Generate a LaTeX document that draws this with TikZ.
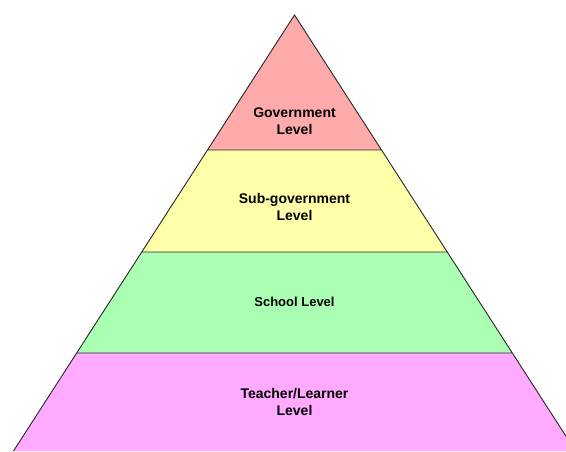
\documentclass[tikz,border=0pt]{standalone}
\usepackage{fontspec}
\setmainfont{Liberation Sans}
\usetikzlibrary{positioning}
\definecolor{govpink}{RGB}{255,170,170}
\definecolor{subyellow}{RGB}{255,255,170}
\definecolor{schoolgreen}{RGB}{170,255,178}
\definecolor{teachermagenta}{RGB}{255,170,255}
\tikzset{edge/.style={draw=black!85, line width=0.9pt}, level-text/.style={align=center, font=\bfseries\fontsize{14}{17}\selectfont}}

\begin{document}
\begin{tikzpicture}[x=1pt, y=-1pt]
    \useasboundingbox (0,0) rectangle (566,451);
    \clip (0,0) rectangle (566,451);
    \coordinate (apex) at (294.5,15);
    \coordinate (gov-l) at (207.5,150);   \coordinate (gov-r) at (381.5,150);
    \coordinate (sub-l) at (141.5,252);   \coordinate (sub-r) at (447.5,252);
    \coordinate (school-l) at (76.5,353); \coordinate (school-r) at (512.5,353);
    \coordinate (base-l) at (13.5,451);   \coordinate (base-r) at (575.5,451);
    \fill[govpink] (apex) -- (gov-r) -- (gov-l) -- cycle;
    \fill[subyellow] (gov-l) -- (gov-r) -- (sub-r) -- (sub-l) -- cycle;
    \fill[schoolgreen] (sub-l) -- (sub-r) -- (school-r) -- (school-l) -- cycle;
    \fill[teachermagenta] (school-l) -- (school-r) -- (base-r) -- (base-l) -- cycle;
    \draw[edge] (base-l) -- (apex) -- (base-r)
        (gov-l) -- (gov-r) (sub-l) -- (sub-r) (school-l) -- (school-r);
    \node[level-text] (government) at (294.5,121) {Government\\Level};
    \node[level-text] (sub-government) at (294.5,207) {Sub-government\\Level};
    \node[level-text, font=\bfseries\fontsize{13}{16}\selectfont] (school) at (294.5,302) {School Level};
    \node[level-text] (teacher) at (294.5,402) {Teacher/Learner\\Level};
\end{tikzpicture}
\end{document}
